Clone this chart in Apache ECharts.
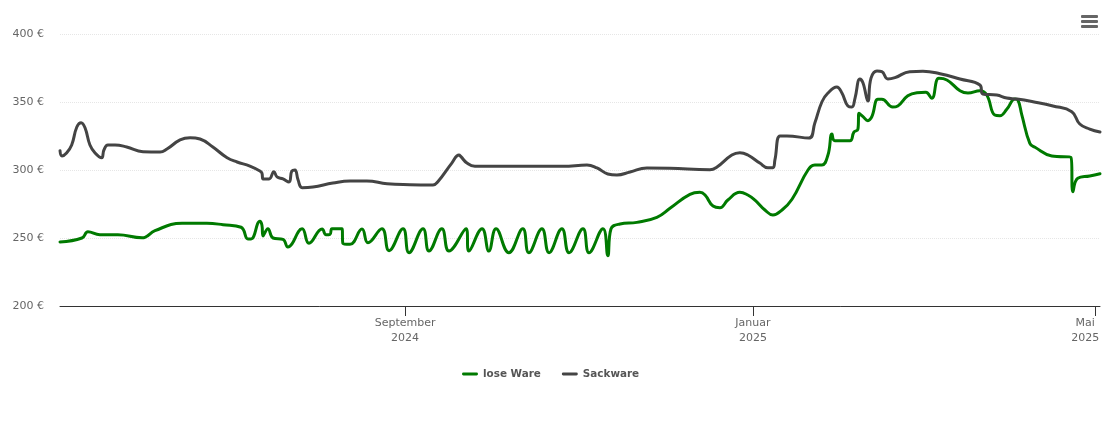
<!DOCTYPE html>
<html>
<head>
<meta charset="utf-8">
<title>Preisentwicklung</title>
<style>
	html, body { margin: 0; padding: 0; background: #fff; }
	#chart { width: 1110px; height: 423px; }
</style>
<script src="https://cdn.jsdelivr.net/npm/echarts@6/dist/echarts.min.js"></script>
</head>
<body>
<div id="chart"></div>
<script>
	'use strict'
	// x values are days counted from 3 May 2024
	var looseDays = [0, 7.7, 9.8, 14, 20.3, 28.8, 29.8, 33.3, 42.8, 51.5, 57.2, 63.5, 65.9, 67, 70.1, 70.8, 71.2, 72.9, 74.7, 78.2, 79.9, 84.9, 87.3, 91.9, 93.3, 94.7, 95.4, 98.9, 99.2, 101.7, 105.9, 108, 112.9, 115.4, 120.3, 122.4, 127.3, 129.4, 133.9, 136.4, 142.4, 143.4, 148, 150.4, 152.9, 157.4, 162.3, 164.4, 169, 171.5, 176, 178.5, 183.4, 185.5, 190.4, 192.1, 193.2, 196.4, 202.3, 209.3, 213.9, 220.9, 224.4, 226.2, 229, 231.4, 234.2, 238.4, 241.2, 243.7, 247.2, 250, 253.2, 256.7, 262.3, 264.7, 267.2, 269.3, 270.7, 271.7, 277, 278.4, 279.8, 280.2, 281.6, 283.3, 284.7, 286.8, 288.2, 292, 293.8, 297.3, 300.5, 303.6, 305.7, 308.2, 311, 315.6, 318.4, 322.6, 325, 327.8, 329.6, 332, 334.9, 335.9, 337.3, 340.1, 341.9, 347.8, 354.5, 355.2, 356.9, 361.1, 364.7];
	var loosePrices = [247.1, 250, 254.6, 252.4, 252.4, 250.2, 250.5, 255.4, 260.8, 260.8, 259.8, 257.9, 249.3, 249.3, 262.3, 259.6, 251.5, 256.8, 250, 249, 243.4, 256.8, 246.1, 256.6, 252.4, 252.7, 256.8, 256.8, 246.1, 245.4, 256.6, 246.5, 256.8, 240.7, 256.8, 239.2, 256.8, 240.4, 256.8, 240.4, 256.8, 240.4, 256.8, 240.4, 256.8, 239.2, 256.8, 239.2, 256.8, 239.2, 256.8, 239.2, 256.8, 239.2, 256.8, 237, 256.6, 260.3, 261.5, 265.2, 271.8, 282.1, 283.6, 281.6, 273.5, 272.3, 277.9, 283.6, 281.6, 277.9, 270.6, 266.9, 270.6, 278.5, 300, 303.7, 303.7, 311, 326.5, 321.5, 321.5, 327.9, 329.9, 341.7, 339.2, 336.3, 339.2, 352, 352, 346.3, 347.1, 354.6, 356.8, 357.1, 352.7, 367.4, 366.2, 358.3, 356.6, 358.3, 355.1, 340.4, 339.9, 344.6, 352.2, 351.5, 340.4, 319.6, 316.7, 310.3, 309.3, 284, 293.9, 295.6, 297.3];
	var sackDays = [0, 0.7, 2.3, 4.1, 5.9, 7.4, 8.8, 10.5, 12.3, 14.6, 15.4, 16.8, 19.3, 23.4, 29.1, 35.1, 37.5, 42.1, 45.6, 49.1, 53.6, 58.6, 62.1, 66.6, 70.1, 70.8, 71.2, 73.3, 75, 76.1, 78.2, 80.3, 81.3, 82.4, 83.5, 84.9, 88.7, 95.7, 101.7, 107.6, 114.7, 122.7, 130.8, 132.5, 137.4, 139.9, 140.6, 142.7, 145.5, 176.4, 184.8, 188.3, 192.1, 195.3, 199.9, 205.8, 213.9, 227.9, 230.4, 235.6, 238.4, 241.2, 245.4, 248.2, 250, 250.7, 252.5, 254.9, 262.6, 264.7, 267.2, 269.3, 272.4, 274.2, 276.3, 277.7, 278.8, 280.5, 281.6, 283.3, 284.4, 286.5, 288.2, 290.3, 292.8, 298, 302.6, 308.6, 315.6, 322.6, 323.6, 328.5, 332, 335.6, 341.2, 348.2, 354.8, 357.6, 361.1, 364.7];
	var sackPrices = [314.2, 310.3, 312.5, 318.4, 331.6, 334.8, 330.9, 318.4, 312.5, 309, 314.7, 318.4, 318.4, 316.9, 313.5, 313.2, 315.4, 322.1, 323.8, 322.8, 316.9, 309, 305.9, 302.9, 299.3, 297.8, 293.4, 293.4, 298.8, 294.9, 293.4, 291.2, 299.3, 300, 292.6, 287, 287.5, 290.4, 291.9, 291.9, 289.9, 289.2, 289, 291.4, 305.1, 311, 309.8, 305.1, 302.7, 302.7, 303.7, 301.5, 297.1, 296.3, 298.5, 301.5, 301.3, 300.2, 302.2, 311, 312.7, 311, 305.1, 301.7, 301.7, 307.4, 325, 325, 323.5, 334.6, 350.2, 356.6, 361, 356.6, 347.1, 346.3, 352.9, 366.9, 364, 350.7, 367.6, 372.8, 372.3, 366.9, 367.9, 372.3, 372.6, 370.8, 366.9, 362.5, 355.9, 355.1, 352.9, 352.2, 350.2, 347.1, 342.9, 333.8, 330.1, 327.9];
	var tickDays = [121, 243, 363];
	var tickLabels = ['September\n2024', 'Januar\n2025', 'Mai\n2025'];
	// the last label is pushed left so that it stays inside the chart
	var labelDays = [121, 243, 359.5];
	var yMin = 200, yMax = 400, yStep = 50;

	function toPoints(days, prices) {
		return days.map(function(d, i) {
			return [d, prices[i]];
		});
	}

	var chart = echarts.init(document.getElementById('chart'));
	chart.setOption({
		animation: false,
		textStyle: { fontFamily: '"DejaVu Sans", sans-serif' },
		color: ['#007a00', '#444444'],
		grid: {
			left: 60,
			right: 10,
			top: 34,
			bottom: 117
		},
		legend: {
			top: 364,
			left: 457,
			icon: 'path://M1 0H15A1 1 0 0 1 15 3H1A1 1 0 0 1 1 0Z',
			itemWidth: 16,
			itemHeight: 3,
			itemGap: 21,
			textStyle: {
				fontSize: 10.4,
				fontWeight: 'bold',
				color: '#555555'
			},
			data: ['lose Ware', 'Sackware']
		},
		xAxis: {
			type: 'value',
			min: 0,
			max: 364.7,
			axisLine: {
				lineStyle: { color: '#333333', width: 1 }
			},
			axisTick: {
				show: true,
				customValues: tickDays,
				length: 10,
				lineStyle: { color: '#333333', width: 1 }
			},
			axisLabel: {
				customValues: labelDays,
				margin: 10,
				fontSize: 11,
				lineHeight: 15,
				color: '#666666',
				formatter: function(value) {
					return tickLabels[labelDays.indexOf(value)];
				}
			},
			splitLine: { show: false }
		},
		yAxis: {
			type: 'value',
			min: yMin,
			max: yMax,
			interval: yStep,
			axisLine: { show: false },
			axisTick: { show: false },
			axisLabel: {
				margin: 16,
				fontSize: 11,
				color: '#666666',
				formatter: '{value} €'
			},
			splitLine: {
				lineStyle: { color: '#e6e6e6', type: 'dotted', width: 1 }
			}
		},
		series: [{
			name: 'lose Ware',
			type: 'line',
			data: toPoints(looseDays, loosePrices),
			smooth: 0.45,
			showSymbol: false,
			lineStyle: { width: 3, cap: 'round', join: 'round' }
		}, {
			name: 'Sackware',
			type: 'line',
			data: toPoints(sackDays, sackPrices),
			smooth: 0.45,
			showSymbol: false,
			lineStyle: { width: 3, cap: 'round', join: 'round' }
		}],
		// export menu button
		graphic: [{
			type: 'group',
			left: 1081,
			top: 15,
			children: [{
				type: 'rect',
				shape: { x: 0, y: 0, width: 17, height: 3, r: 1 },
				style: { fill: '#666666' }
			}, {
				type: 'rect',
				shape: { x: 0, y: 5, width: 17, height: 3, r: 1 },
				style: { fill: '#666666' }
			}, {
				type: 'rect',
				shape: { x: 0, y: 10, width: 17, height: 3, r: 1 },
				style: { fill: '#666666' }
			}]
		}]
	});
</script>
</body>
</html>
